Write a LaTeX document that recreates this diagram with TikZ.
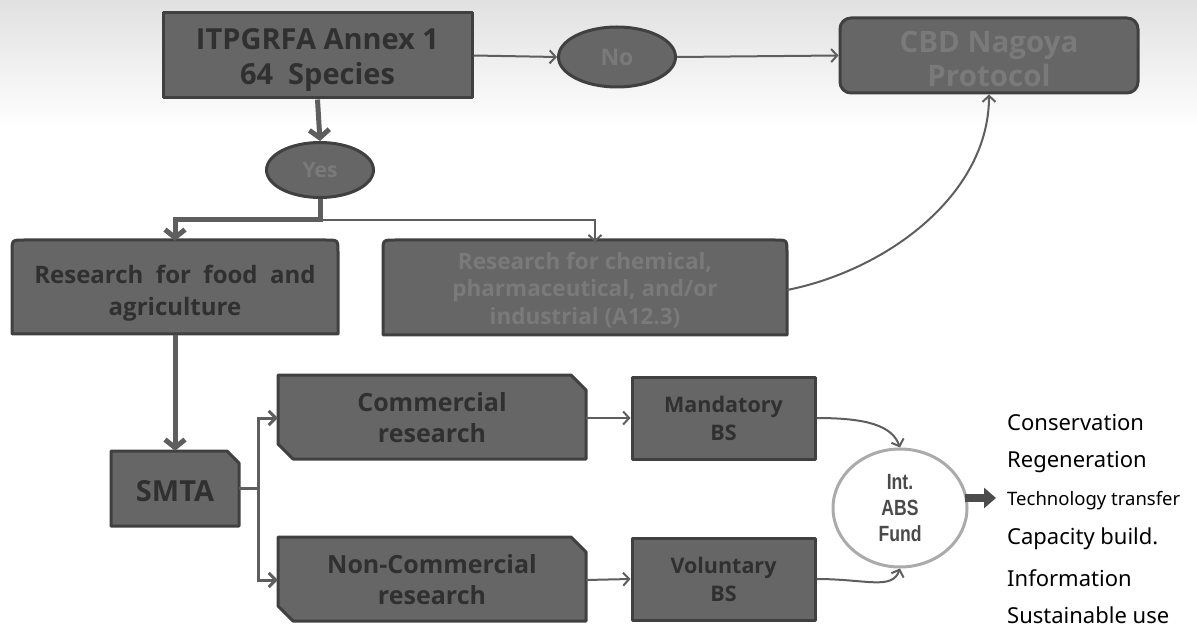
\documentclass[tikz,border=0pt]{standalone}
\usepackage{fontspec}
\setmainfont{Noto Sans}
\newfontfamily\boxfont{Open Sans}
\newfontfamily\fundfont{Liberation Sans}
\usetikzlibrary{shapes.geometric,arrows.meta,calc}
\definecolor{boxfill}{HTML}{666666}
\definecolor{boxedge}{HTML}{404040}
\definecolor{darktext}{HTML}{303030}
\definecolor{lighttext}{HTML}{7A7A7A}
\definecolor{conn}{HTML}{5E5E5E}
\definecolor{fundedge}{HTML}{AAAAAA}
\definecolor{fundtext}{HTML}{4A4A4A}
\begin{document}
\begin{tikzpicture}[x=1pt,y=-1pt,
  lbl/.style={draw=none, inner sep=0pt, align=center, rectangle},
  shapeline/.style={fill=boxfill, draw=boxedge, line width=3pt, line join=round},
  rectbox/.style={rectangle, shapeline, inner sep=0pt, align=center},
  oval/.style={ellipse, shapeline, inner sep=0pt, align=center},
  darkbold/.style 2 args={text=darktext, font=\boxfont\bfseries\fontsize{#1}{#2}\selectfont},
  lightbold/.style 2 args={text=lighttext, font=\boxfont\bfseries\fontsize{#1}{#2}\selectfont},
  bigflow/.style={draw=conn, line width=5pt, -{Straight Barb[length=8pt,width=20pt]}},
  midflow/.style={draw=conn, line width=3pt, -{Straight Barb[length=7pt,width=14pt]}},
  thinflow/.style={draw=conn, line width=2pt, -{Straight Barb[length=6pt,width=13pt]}},
  listitem/.style={anchor=west, inner sep=0pt, text=black, font=\fontsize{22}{26}\selectfont}
]
\useasboundingbox (0,0) rectangle (1197,628);
\shade[top color=black!12, bottom color=white] (0,0) rectangle (1197,130);

% --- shapes drawn directly ---
\draw[shapeline] (12,334) -- (12,252) .. controls (12,240) .. (24,240) -- (326,240) .. controls (338,240) .. (338,252) -- (338,334) -- cycle;
\draw[shapeline] (383,335) -- (383,252) .. controls (383,240) .. (395,240) -- (775,240) .. controls (787,240) .. (787,252) -- (787,335) -- cycle;
\draw[shapeline] (111,451) -- (227,451) -- (239,463) -- (239,526) -- (111,526) -- cycle;
\draw[shapeline] (278,375) -- (571,375) -- (586,390) -- (586,459) -- (293,459) -- (278,444) -- cycle;
\draw[shapeline] (278,537) -- (571,537) -- (586,552) -- (586,621) -- (293,621) -- (278,606) -- cycle;

% --- nodes ---
\node[rectbox, minimum width=309, minimum height=85, darkbold={29}{35}] (itp) at (317.5,55.5) {\rule{0pt}{30pt}ITPGRFA Annex 1\\64~~Species};
\node[oval, minimum width=117, minimum height=60, lightbold={23}{26}] (no) at (617,57) {No};
\node[rectbox, rounded corners=11pt, minimum width=298, minimum height=75, lightbold={29.5}{34}] (cbd) at (989,55.5) {\rule{0pt}{28pt}CBD Nagoya\\Protocol};
\node[oval, minimum width=107, minimum height=55, lightbold={21}{24}] (yes) at (320,170) {Yes};
\node[lbl, minimum width=326, minimum height=94, darkbold={24}{32}] (food) at (175,288) {\rule{0pt}{28pt}Research~ for~ food~ and\\agriculture};
\node[lbl, minimum width=404, minimum height=95, lightbold={22.5}{27.5}] (chem) at (585,290) {Research for chemical,\\pharmaceutical, and/or\\industrial (A12.3)};
\node[lbl, minimum width=128, minimum height=75, darkbold={29}{30}] (smta) at (175,488.5) {\rule{0pt}{27pt}SMTA};
\node[lbl, minimum width=308, minimum height=84, darkbold={25}{31}] (comm) at (432,418) {Commercial\\research};
\node[lbl, minimum width=308, minimum height=84, darkbold={25}{31}] (ncomm) at (432,580) {Non-Commercial\\research};
\node[rectbox, minimum width=183, minimum height=82, darkbold={21.5}{28}] (mand) at (723.5,418) {Mandatory\\BS};
\node[rectbox, minimum width=183, minimum height=82, darkbold={21.5}{28}] (vol) at (723.5,579) {Voluntary\\BS};
\node[ellipse, draw=fundedge, fill=white, line width=3pt, minimum width=134, minimum height=118, inner sep=0pt, align=center, text=fundtext, font=\fundfont\bfseries\fontsize{22}{26}\selectfont] (fund) at (900,508) {\scalebox{0.8}[1]{Int.}\\\scalebox{0.8}[1]{ABS}\\\scalebox{0.8}[1]{Fund}};

\node[listitem] (l1) at (1007,423) {Conservation};
\node[listitem] (l2) at (1007,462) {Regeneration};
\node[listitem, font=\fontsize{18.5}{22}\selectfont] (l3) at (1007,501) {Technology transfer};
\node[listitem] (l4) at (1007,539) {Capacity build.};
\node[listitem] (l5) at (1007,578) {Information};
\node[listitem] (l6) at (1007,615) {Sustainable use};

% --- connectors ---
\coordinate (yb) at (320,220);
\coordinate (smtab) at (258,488.5);
\coordinate (fundtail) at (965,498);
\coordinate (fundtip) at (996,498);
\draw[thinflow] (itp.east) -- (no.west);
\draw[thinflow] (no.east) -- (cbd.west);
\draw[bigflow] (itp.south) -- (yes.north);
\draw[thinflow] (yb) -| ($(chem.north)+(10,0)$);
\draw[bigflow] (yes.south) -- (yb) -| (food.north);
\draw[bigflow] (food.south) -- (smta.north);
\draw[draw=conn, line width=3pt] (smta.east) -- (smtab);
\draw[midflow] (smtab) |- (comm.west);
\draw[midflow] (smtab) |- (ncomm.west);
\draw[thinflow] (comm.east) -- (mand.west);
\draw[thinflow] (ncomm.east) -- (vol.west);
\draw[thinflow] (mand.east) .. controls +(50,0) and +(-8,-22) .. (fund.north);
\draw[thinflow] (vol.east) .. controls +(50,0) and +(-8,22) .. (fund.south);
\draw[thinflow] (chem.east) .. controls +(100,-20) and +(0,100) .. (cbd.south);
\draw[draw=black!70, line width=8pt, -{Triangle[length=12pt,width=20pt]}] (fundtail) -- (fundtip);
\end{tikzpicture}
\end{document}
